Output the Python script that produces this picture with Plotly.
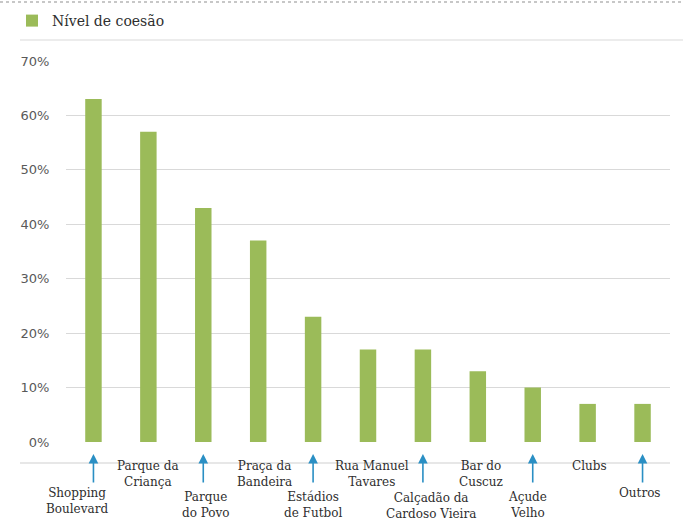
import plotly.graph_objects as go

# ---- data ----
categories = ["Shopping Boulevard", "Parque da Criança", "Parque do Povo", "Praça da Bandeira",
              "Estádios de Futbol", "Rua Manuel Tavares", "Calçadão da Cardoso Vieira",
              "Bar do Cuscuz", "Açude Velho", "Clubs", "Outros"]
values = [0.63, 0.57, 0.43, 0.37, 0.23, 0.17, 0.17, 0.13, 0.10, 0.07, 0.07]
label_text = ["Shopping<br>Boulevard", "Parque da<br>Criança", "Parque<br>do Povo", "Praça da<br>Bandeira",
              "Estádios<br>de Futbol", "Rua Manuel<br>Tavares", "Calçadão da<br>Cardoso Vieira",
              "Bar do<br>Cuscuz", "Açude<br>Velho", "Clubs", "Outros"]
has_arrow = [True, False, True, False, True, False, True, False, True, False, True]
series_name = "Nível de coesão"
tick_vals = [0, 0.1, 0.2, 0.3, 0.4, 0.5, 0.6, 0.7]
tick_text = ["0%", "10%", "20%", "30%", "40%", "50%", "60%", "70%"]

# ---- layout helpers (pixel geometry) ----
W, H = 683, 520
PL, PR, PT, PB = 66, 670, 61, 442   # plot area pixel bounds
def py(p):  # pixel y -> paper y
    return (PB - p) / (PB - PT)
def px(p):  # pixel x -> paper x
    return (p - PL) / (PR - PL)

SERIF = "DejaVu Serif"
label_y_px = [501, 474, 505, 474, 505, 474, 506, 474, 505, 466, 493]
label_dx = [-16, 0, 3, 6, 0, 4, 8, 3, -5, 2, -3]

fig = go.Figure()
fig.add_trace(go.Bar(x=categories, y=values, name=series_name,
                     marker=dict(color="#9bbb59", line=dict(width=0)),
                     showlegend=True))

annotations = []
for cat, txt, yp, dx, arr in zip(categories, label_text, label_y_px, label_dx, has_arrow):
    annotations.append(dict(x=cat, xref="x", y=py(yp), yref="paper", text=txt,
                            showarrow=False, xshift=dx, yanchor="middle", xanchor="center",
                            font=dict(family=SERIF, size=12, color="#2e2e2e"),
                            align="center"))
    if arr:
        annotations.append(dict(x=cat, xref="x", y=py(454), yref="paper", text="",
                                showarrow=True, ax=0, ay=30, axref="pixel", ayref="pixel",
                                arrowhead=2, arrowsize=1.2, arrowwidth=1.6,
                                arrowcolor="#2a8fc4"))

shapes = [
    dict(type="line", xref="paper", yref="paper", x0=px(20), x1=px(670),
         y0=py(463), y1=py(463), line=dict(color="#cfcfcf", width=1.2)),
    dict(type="line", xref="paper", yref="paper", x0=px(0), x1=px(683),
         y0=py(2), y1=py(2), line=dict(color="#b5b5b5", width=1.5, dash="dot")),
    dict(type="line", xref="paper", yref="paper", x0=px(20), x1=px(683),
         y0=py(40), y1=py(40), line=dict(color="#e6e6e6", width=1.5)),
]

fig.update_layout(
    width=W, height=H,
    margin=dict(l=PL, r=W - PR, t=PT, b=H - PB, autoexpand=False),
    paper_bgcolor="white", plot_bgcolor="white",
    bargap=0.7,
    showlegend=True,
    legend=dict(x=px(12), xanchor="left", y=py(21), yanchor="middle",
                orientation="h", bgcolor="rgba(0,0,0,0)",
                font=dict(family=SERIF, size=14, color="#2e2e2e")),
    xaxis=dict(type="category", showticklabels=False, showgrid=False, zeroline=False,
               showline=False, ticks="", automargin=False,
               range=[-0.5, len(categories) - 0.5]),
    yaxis=dict(range=[0, 0.7], tickvals=tick_vals, ticktext=tick_text,
               automargin=False,
               showgrid=True, gridcolor="#d9d9d9", gridwidth=1, zeroline=False,
               showline=False, ticks="outside", ticklen=13, tickcolor="rgba(255,255,255,0)",
               tickfont=dict(family="DejaVu Sans", size=13, color="#595959")),
    annotations=annotations,
    shapes=shapes,
)

fig.write_html("out.html")
